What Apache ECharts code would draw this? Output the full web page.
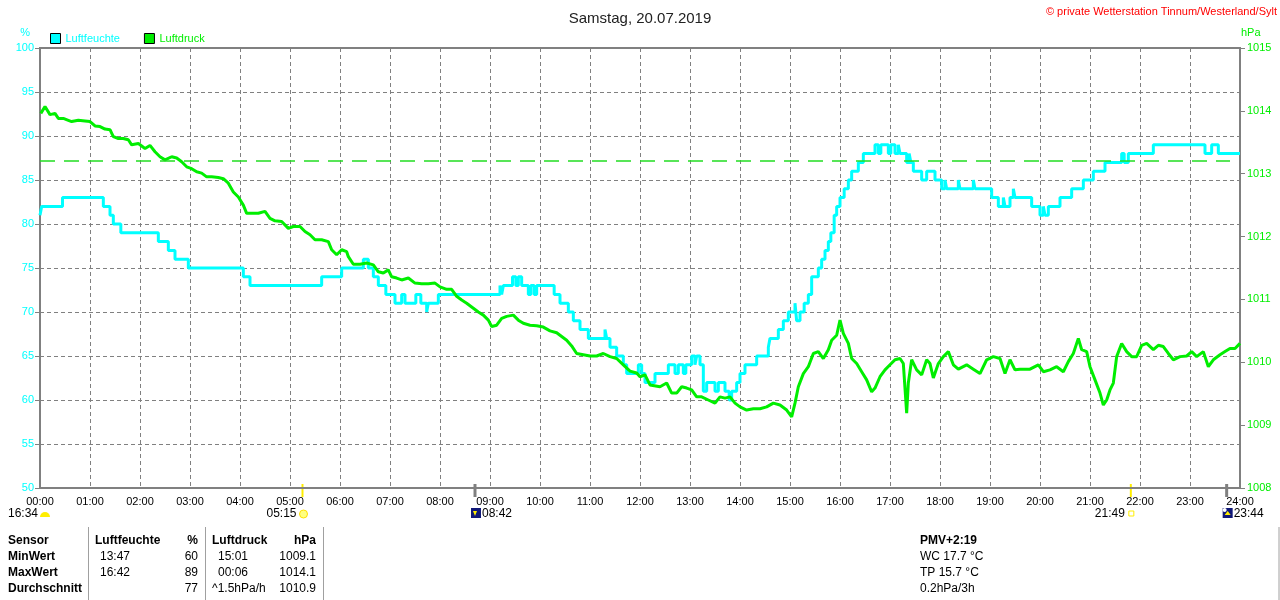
<!DOCTYPE html>
<html>
<head>
<meta charset="utf-8">
<script src="https://cdn.jsdelivr.net/npm/echarts@6/dist/echarts.min.js"></script>
<style>
html, body { margin: 0; padding: 0; background: #fff; }
#chart { width: 1280px; height: 600px; }
</style>
</head>
<body>
<div id="chart"></div>
<script>
// Luftfeuchte (step values, minute of day -> %)
var humTimes = [0, 2, 27, 76, 84, 88, 97, 142, 154, 162, 178, 244, 252, 338, 362, 388, 394, 400, 406, 415,
    426, 434, 438, 451, 457, 464, 466, 478, 552, 554, 556, 567, 571, 574, 578, 586, 589, 593, 596, 617,
    624, 634, 640, 648, 658, 678, 680, 684, 692, 700, 704, 718, 722, 726, 738, 754, 762, 766, 772, 775,
    782, 786, 788, 792, 796, 800, 810, 814, 822, 827, 830, 836, 840, 846, 860, 874, 876, 886, 892, 898,
    906, 908, 912, 917, 922, 926, 934, 938, 942, 946, 949, 953, 956, 960, 965, 970, 974, 982, 988, 1002,
    1006, 1009, 1018, 1021, 1026, 1030, 1032, 1040, 1043, 1045, 1048, 1058, 1064, 1074, 1082, 1086, 1088, 1102, 1104, 1120,
    1122, 1142, 1150, 1156, 1158, 1164, 1168, 1170, 1190, 1200, 1204, 1206, 1210, 1224, 1238, 1252, 1264, 1278, 1298, 1301,
    1306, 1336, 1398, 1406, 1414, 1440];
var humValues = [81, 82, 83, 82, 81, 80, 79, 78, 77, 76, 75, 74, 73, 74, 75, 76, 75, 74, 73, 72,
    71, 72, 71, 72, 71, 70, 71, 72, 73, 72, 73, 74, 73, 74, 73, 72, 73, 72, 73, 72,
    71, 70, 69, 68, 67, 68, 67, 66, 65, 64, 63, 64, 63, 62, 63, 64, 63, 64, 63, 64,
    65, 64, 65, 64, 61, 62, 61, 62, 61, 60, 61, 62, 63, 64, 65, 66, 67, 68, 69, 70,
    71, 69, 70, 71, 72, 74, 75, 76, 77, 78, 79, 81, 82, 83, 84, 85, 86, 87, 88, 89,
    88, 89, 88, 89, 88, 89, 88, 87, 88, 87, 86, 85, 86, 85, 84, 85, 84, 85, 84, 85,
    84, 83, 82, 83, 82, 83, 84, 83, 82, 81, 82, 81, 82, 83, 84, 85, 86, 87, 88, 87,
    88, 89, 88, 89, 88, 88];

// Luftdruck (minute of day -> hPa)
var pressTimes = [1, 6, 12, 18, 22, 28, 34, 38, 46, 54, 60, 66, 72, 78, 84, 88, 94, 100, 106, 110,
    118, 126, 132, 138, 144, 150, 158, 164, 170, 176, 182, 188, 194, 200, 206, 214, 220, 226, 232, 238,
    244, 248, 254, 262, 270, 276, 282, 290, 298, 304, 312, 318, 324, 330, 338, 346, 350, 356, 362, 368,
    370, 376, 384, 392, 400, 406, 412, 418, 422, 428, 434, 442, 450, 458, 466, 474, 480, 488, 494, 500,
    506, 512, 520, 526, 532, 538, 542, 548, 554, 560, 568, 574, 580, 588, 596, 604, 612, 620, 626, 632,
    638, 644, 652, 660, 668, 676, 684, 692, 700, 708, 716, 720, 726, 732, 744, 752, 758, 764, 770, 776,
    782, 788, 794, 802, 810, 816, 822, 828, 834, 840, 848, 856, 864, 872, 880, 888, 896, 902, 906, 910,
    916, 922, 928, 934, 940, 946, 950, 956, 960, 964, 970, 974, 980, 986, 992, 998, 1002, 1008, 1014, 1020,
    1026, 1032, 1036, 1040, 1042, 1046, 1052, 1058, 1064, 1068, 1072, 1078, 1084, 1090, 1096, 1102, 1112, 1120, 1128, 1136,
    1144, 1152, 1158, 1164, 1170, 1176, 1188, 1198, 1204, 1212, 1220, 1228, 1234, 1240, 1246, 1250, 1256, 1260, 1266, 1272,
    1276, 1280, 1284, 1288, 1292, 1298, 1304, 1310, 1316, 1322, 1328, 1336, 1342, 1348, 1354, 1360, 1368, 1376, 1382, 1388,
    1396, 1402, 1408, 1416, 1422, 1428, 1434, 1440];
var pressValues = [1013.96, 1014.07, 1013.94, 1013.96, 1013.88, 1013.88, 1013.85, 1013.83, 1013.85, 1013.84, 1013.83, 1013.76, 1013.75, 1013.71, 1013.70, 1013.59, 1013.56, 1013.56, 1013.54, 1013.46,
    1013.48, 1013.40, 1013.45, 1013.35, 1013.27, 1013.22, 1013.27, 1013.25, 1013.19, 1013.11, 1013.08, 1013.03, 1013.01, 1012.95, 1012.95, 1012.94, 1012.92, 1012.85, 1012.71, 1012.63,
    1012.50, 1012.37, 1012.37, 1012.37, 1012.40, 1012.29, 1012.25, 1012.24, 1012.13, 1012.16, 1012.16, 1012.08, 1012.03, 1011.95, 1011.95, 1011.92, 1011.79, 1011.71, 1011.79, 1011.76,
    1011.68, 1011.56, 1011.56, 1011.58, 1011.55, 1011.44, 1011.42, 1011.47, 1011.36, 1011.34, 1011.31, 1011.34, 1011.26, 1011.25, 1011.25, 1011.26, 1011.20, 1011.16, 1011.16, 1011.05,
    1010.99, 1010.94, 1010.86, 1010.80, 1010.75, 1010.67, 1010.57, 1010.59, 1010.70, 1010.73, 1010.75, 1010.67, 1010.62, 1010.59, 1010.58, 1010.56, 1010.50, 1010.47, 1010.41, 1010.35,
    1010.26, 1010.14, 1010.12, 1010.10, 1010.10, 1010.14, 1010.09, 1010.06, 1009.96, 1009.86, 1009.83, 1009.77, 1009.80, 1009.64, 1009.61, 1009.67, 1009.51, 1009.51, 1009.61, 1009.59,
    1009.56, 1009.45, 1009.45, 1009.40, 1009.35, 1009.45, 1009.43, 1009.45, 1009.35, 1009.29, 1009.24, 1009.26, 1009.26, 1009.29, 1009.35, 1009.32, 1009.24, 1009.13, 1009.35, 1009.61,
    1009.82, 1009.93, 1010.14, 1010.17, 1010.06, 1010.20, 1010.35, 1010.43, 1010.67, 1010.46, 1010.30, 1010.06, 1009.98, 1009.85, 1009.72, 1009.53, 1009.59, 1009.77, 1009.88, 1009.96,
    1010.04, 1010.06, 1009.98, 1009.19, 1009.67, 1010.04, 1009.88, 1009.80, 1010.04, 1009.98, 1009.75, 1009.98, 1010.09, 1010.17, 1009.96, 1009.89, 1009.96, 1009.89, 1009.82, 1010.04,
    1010.09, 1010.06, 1009.82, 1010.04, 1009.88, 1009.89, 1009.89, 1009.96, 1009.85, 1009.88, 1009.93, 1009.85, 1010.01, 1010.14, 1010.38, 1010.20, 1010.17, 1009.93, 1009.72, 1009.51,
    1009.32, 1009.40, 1009.56, 1009.67, 1010.09, 1010.30, 1010.17, 1010.09, 1010.09, 1010.27, 1010.30, 1010.20, 1010.27, 1010.25, 1010.14, 1010.04, 1010.09, 1010.10, 1010.17, 1010.09,
    1010.17, 1009.93, 1010.04, 1010.12, 1010.17, 1010.22, 1010.22, 1010.30];

var refPressure = 1013.2;

// Sonne/Mond Zeiten (Minuten)
var eventTimes = [315, 522, 1309, 1424];
var eventLabels = ['05:15', '08:42', '21:49', '23:44'];

// Tabelle
var tableHead = ['Sensor', 'Luftfeuchte', '%', 'Luftdruck', 'hPa'];
var rowNames = ['MinWert', 'MaxWert', 'Durchschnitt'];
var humTimeCol = ['13:47', '16:42', ''];
var humValCol = ['60', '89', '77'];
var pressTimeCol = ['15:01', '00:06', '^1.5hPa/h'];
var pressValCol = ['1009.1', '1014.1', '1010.9'];
var infoLines = ['PMV+2:19', 'WC 17.7 °C', 'TP 15.7 °C', '0.2hPa/3h'];

var CYAN = '#00ffff';
var GREEN = '#00ee00';
var GRAY = '#808080';
var FONT = 'Liberation Sans, Arial, sans-serif';

function zip(a, b) {
    var res = [];
    for (var i = 0; i < a.length; i++) res.push([a[i], b[i]]);
    return res;
}

var chart = echarts.init(document.getElementById('chart'));

var option = {
    animation: false,
    backgroundColor: '#fff',
    textStyle: { fontFamily: FONT },
    title: {
        text: 'Samstag, 20.07.2019',
        left: 'center',
        top: 6,
        textStyle: { color: '#222', fontSize: 15, fontWeight: 'normal', fontFamily: FONT }
    },
    legend: {
        left: 45,
        top: 28,
        itemWidth: 10,
        itemHeight: 10,
        itemGap: 24,
        icon: 'rect',
        textStyle: { fontSize: 11, fontFamily: FONT },
        data: [
            { name: 'Luftfeuchte', textStyle: { color: CYAN }, itemStyle: { borderColor: '#000', borderWidth: 1 } },
            { name: 'Luftdruck', textStyle: { color: GREEN }, itemStyle: { borderColor: '#000', borderWidth: 1 } }
        ]
    },
    grid: {
        left: 40, right: 40, top: 48, bottom: 112,
        show: true, borderColor: GRAY, borderWidth: 2
    },
    xAxis: {
        type: 'value',
        min: 0, max: 1440, interval: 60,
        axisLine: { lineStyle: { color: GRAY, width: 2 } },
        axisTick: { show: false },
        axisLabel: {
            color: '#000', fontSize: 11, margin: 8,
            formatter: function (v) { var h = v / 60; return (h < 10 ? '0' : '') + h + ':00'; }
        },
        splitLine: { show: true, lineStyle: { color: GRAY, type: [4, 3], width: 1 } }
    },
    yAxis: [{
        type: 'value',
        min: 50, max: 100, interval: 5,
        position: 'left',
        name: '%',
        nameLocation: 'end',
        nameGap: 10,
        nameTextStyle: { color: CYAN, fontSize: 11, align: 'right', padding: [0, 10, 0, 0] },
        axisLine: { show: true, lineStyle: { color: GRAY, width: 2 } },
        axisTick: { show: true, length: 5, lineStyle: { color: GRAY } },
        axisLabel: { color: CYAN, fontSize: 11, margin: 6 },
        splitLine: { show: true, lineStyle: { color: GRAY, type: [4, 3], width: 1 } }
    }, {
        type: 'value',
        min: 1008, max: 1015, interval: 1,
        position: 'right',
        name: 'hPa',
        nameLocation: 'end',
        nameGap: 10,
        nameTextStyle: { color: GREEN, fontSize: 11, align: 'left', padding: [0, 0, 0, 1] },
        axisLine: { show: true, lineStyle: { color: GRAY, width: 2 } },
        axisTick: { show: true, length: 5, lineStyle: { color: GRAY } },
        axisLabel: { color: GREEN, fontSize: 11, margin: 7, formatter: function (v) { return String(v); } },
        splitLine: { show: false }
    }],
    series: [{
        name: 'Luftfeuchte',
        type: 'line',
        step: 'end',
        yAxisIndex: 0,
        showSymbol: false,
        symbol: 'none',
        color: CYAN,
        lineStyle: { color: CYAN, width: 3 },
        data: zip(humTimes, humValues),
        z: 3
    }, {
        name: 'Luftdruck',
        type: 'line',
        yAxisIndex: 1,
        showSymbol: false,
        symbol: 'none',
        color: GREEN,
        lineStyle: { color: GREEN, width: 3 },
        data: zip(pressTimes, pressValues),
        z: 4,
        markLine: {
            silent: true,
            symbol: 'none',
            label: { show: false },
            lineStyle: { color: '#22dd22', type: [15, 9], width: 1.5 },
            data: [[{ xAxis: 0, yAxis: refPressure }, { xAxis: 1428, yAxis: refPressure }]]
        }
    }]
};

chart.setOption(option);

// Texte und Symbole unter der Achse
var g = [];
function txt(x, y, s, opt) {
    opt = opt || {};
    g.push({
        type: 'text', x: x, y: y, silent: true,
        style: {
            text: s, fill: opt.color || '#000', font: (opt.bold ? 'bold ' : '') + (opt.size || 12) + 'px ' + FONT,
            textAlign: opt.align || 'left', textVerticalAlign: 'middle'
        }
    });
}
function vline(x, y1, y2, color, w) {
    g.push({ type: 'line', silent: true, shape: { x1: x, y1: y1, x2: x, y2: y2 }, style: { stroke: color, lineWidth: w } });
}

txt(8, 514, '16:34', { size: 12 });
g.push({ type: 'sector', silent: true, shape: { cx: 45, cy: 517, r: 5, r0: 0, startAngle: Math.PI, endAngle: Math.PI * 2 }, style: { fill: '#ffee00' } });

var ex = eventTimes.map(function (t) { return chart.convertToPixel({ xAxisIndex: 0 }, t); });
// Sonnenaufgang
vline(ex[0], 484, 497, '#ffee00', 2);
txt(ex[0] - 6, 514, eventLabels[0], { align: 'right' });
g.push({ type: 'circle', silent: true, shape: { cx: ex[0] + 1, cy: 514, r: 4 }, style: { fill: '#ffff80', stroke: '#ffe000', lineWidth: 1 } });
// Mondaufgang
vline(ex[1], 484, 497, GRAY, 3);
g.push({ type: 'rect', silent: true, shape: { x: ex[1] - 4, y: 508, width: 10, height: 10 }, style: { fill: '#101878' } });
g.push({ type: 'polygon', silent: true, shape: { points: [[ex[1] - 2, 511], [ex[1] + 2, 511], [ex[1], 516]] }, style: { fill: '#ffee00' } });
txt(ex[1] + 7, 514, eventLabels[1]);
// Sonnenuntergang
vline(ex[2], 484, 497, '#ffee00', 2);
txt(ex[2] - 6, 514, eventLabels[2], { align: 'right' });
g.push({ type: 'rect', silent: true, shape: { x: ex[2] - 2, y: 511, width: 5, height: 5 }, style: { fill: '#fff', stroke: '#ffee00', lineWidth: 1 } });
// Monduntergang
vline(ex[3], 484, 497, GRAY, 3);
g.push({ type: 'rect', silent: true, shape: { x: ex[3] - 4, y: 508, width: 10, height: 10 }, style: { fill: '#101878' } });
g.push({ type: 'circle', silent: true, shape: { cx: ex[3] - 2, cy: 510, r: 2 }, style: { fill: '#fff' } });
g.push({ type: 'polygon', silent: true, shape: { points: [[ex[3] + 1, 511], [ex[3] + 4, 515], [ex[3] - 2, 515]] }, style: { fill: '#ffee00' } });
txt(ex[3] + 7, 514, eventLabels[3]);

// Copyright
txt(1277, 12, '\u00a9 private Wetterstation Tinnum/Westerland/Sylt', { color: '#ff0000', size: 11, align: 'right' });

// Tabelle
var rowY = [541, 557, 573, 589];
vline(88.5, 527, 600, '#a0a0a0', 1);
vline(205.5, 527, 600, '#a0a0a0', 1);
vline(323.5, 527, 600, '#a0a0a0', 1);
vline(1279, 527, 600, '#a0a0a0', 1);
txt(8, rowY[0], tableHead[0], { bold: true });
txt(95, rowY[0], tableHead[1], { bold: true });
txt(198, rowY[0], tableHead[2], { bold: true, align: 'right' });
txt(212, rowY[0], tableHead[3], { bold: true });
txt(316, rowY[0], tableHead[4], { bold: true, align: 'right' });
for (var i = 0; i < rowNames.length; i++) {
    var y = rowY[i + 1];
    txt(8, y, rowNames[i], { bold: true });
    txt(100, y, humTimeCol[i]);
    txt(198, y, humValCol[i], { align: 'right' });
    txt(i === 2 ? 212 : 218, y, pressTimeCol[i]);
    txt(316, y, pressValCol[i], { align: 'right' });
}
for (var j = 0; j < infoLines.length; j++) {
    txt(920, rowY[j], infoLines[j], { bold: j === 0 });
}

chart.setOption({ graphic: g });
</script>
</body>
</html>
